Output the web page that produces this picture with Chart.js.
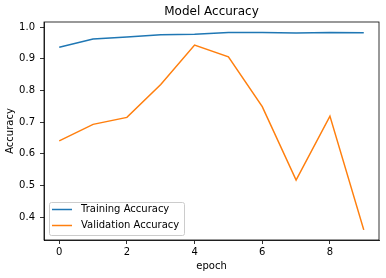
<!DOCTYPE html>
<html>
<head>
<meta charset="utf-8">
<script src="https://cdn.jsdelivr.net/npm/chart.js@4"></script>
<style>
  html, body { margin: 0; padding: 0; background: #fff; }
  #wrap { width: 386px; height: 278px; }
</style>
</head>
<body>
<div id="wrap"><canvas id="accChart" width="386" height="278"></canvas></div>
<script>
const epochs = [0, 1, 2, 3, 4, 5, 6, 7, 8, 9];
const trainAcc = [0.936, 0.962, 0.969, 0.976, 0.977, 0.983, 0.983, 0.981, 0.983, 0.982];
const valAcc = [0.641, 0.693, 0.715, 0.819, 0.943, 0.906, 0.749, 0.517, 0.719, 0.360];
const xTicks = [0, 2, 4, 6, 8];
const yTicks = [0.4, 0.5, 0.6, 0.7, 0.8, 0.9, 1.0];
const seriesNames = ["Training Accuracy", "Validation Accuracy"];

const FONT = "'DejaVu Sans', sans-serif";

function toPoints(ys) {
  return epochs.map((e, i) => ({ x: e, y: ys[i] }));
}

// box around the plot + legend in the lower left corner
const framePlugin = {
  id: "frame",
  afterDraw(chart) {
    const ctx = chart.ctx;
    const a = chart.chartArea;
    ctx.save();
    ctx.strokeStyle = "#000";
    ctx.lineWidth = 0.8;
    ctx.strokeRect(a.left, a.top, a.right - a.left, a.bottom - a.top);

    // legend
    const bx = a.left + 5, by = a.bottom - 38, bw = 135, bh = 33;
    ctx.beginPath();
    ctx.roundRect(bx + 0.5, by + 0.5, bw, bh, 2);
    ctx.fillStyle = "rgba(255,255,255,0.8)";
    ctx.fill();
    ctx.strokeStyle = "#cccccc";
    ctx.lineWidth = 1;
    ctx.stroke();

    ctx.font = "10px " + FONT;
    ctx.textBaseline = "middle";
    ctx.textAlign = "left";
    chart.data.datasets.forEach((ds, i) => {
      const y = by + 7.5 + i * 16;
      ctx.beginPath();
      ctx.moveTo(bx + 3, y);
      ctx.lineTo(bx + 23, y);
      ctx.strokeStyle = ds.borderColor;
      ctx.lineWidth = 1.5;
      ctx.stroke();
      ctx.fillStyle = "#000";
      ctx.fillText(ds.label, bx + 32, y);
    });
    ctx.restore();
  }
};

new Chart(document.getElementById("accChart"), {
  type: "line",
  data: {
    datasets: [
      {
        label: seriesNames[0],
        data: toPoints(trainAcc),
        borderColor: "#1f77b4",
        borderWidth: 1.5,
        pointRadius: 0,
        tension: 0,
        fill: false
      },
      {
        label: seriesNames[1],
        data: toPoints(valAcc),
        borderColor: "#ff7f0e",
        borderWidth: 1.5,
        pointRadius: 0,
        tension: 0,
        fill: false
      }
    ]
  },
  options: {
    responsive: false,
    animation: false,
    layout: { padding: { left: 0, right: 7, top: 0, bottom: 0 } },
    plugins: {
      legend: { display: false },
      tooltip: { enabled: false },
      title: {
        display: true,
        text: "Model Accuracy",
        fullSize: false,
        color: "#000",
        font: { family: FONT, size: 12, weight: "normal", lineHeight: 1.2 },
        padding: { top: 5, bottom: 2.6 }
      }
    },
    scales: {
      x: {
        type: "linear",
        min: -0.45,
        max: 9.45,
        afterBuildTicks(scale) { scale.ticks = xTicks.map(v => ({ value: v })); },
        afterFit(scale) { scale.height = 38; },
        ticks: {
          color: "#000",
          padding: 2,
          maxRotation: 0,
          font: { family: FONT, size: 10 },
          callback: v => String(v)
        },
        grid: { drawOnChartArea: false, drawTicks: true, tickLength: 4, tickColor: "#000", tickWidth: 0.8 },
        border: { display: true, color: "#000", width: 0.8 },
        title: {
          display: true,
          text: "epoch",
          color: "#000",
          font: { family: FONT, size: 10, lineHeight: 1.2 },
          padding: 6
        }
      },
      y: {
        min: 0.328,
        max: 1.016,
        afterBuildTicks(scale) { scale.ticks = yTicks.map(v => ({ value: v })); },
        afterFit(scale) { scale.width = 44; },
        ticks: {
          color: "#000",
          padding: 5,
          font: { family: FONT, size: 10 },
          callback: v => Number(v).toFixed(1)
        },
        grid: { drawOnChartArea: false, drawTicks: true, tickLength: 4, tickColor: "#000", tickWidth: 0.8 },
        border: { display: true, color: "#000", width: 0.8 },
        title: {
          display: true,
          text: "Accuracy",
          color: "#000",
          font: { family: FONT, size: 10, lineHeight: 1.2 },
          padding: 4
        }
      }
    }
  },
  plugins: [framePlugin]
});
</script>
</body>
</html>
